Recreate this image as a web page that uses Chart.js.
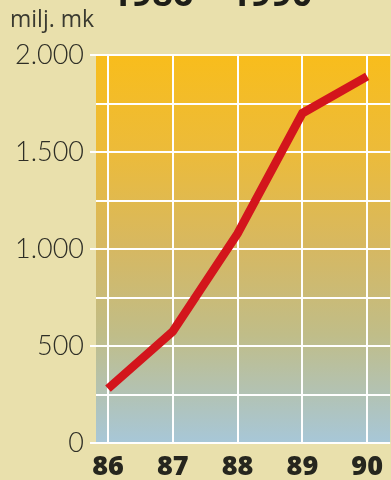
<!DOCTYPE html>
<html>
<head>
<meta charset="utf-8">
<script src="https://cdn.jsdelivr.net/npm/chart.js@4"></script>
<style>
    html, body { margin: 0; padding: 0; background: #e9e0ac; }
    #wrap { position: relative; width: 391px; height: 480px; overflow: hidden; }
    canvas { display: block; }
</style>
</head>
<body>
<div id="wrap"><canvas id="chart" width="391" height="480"></canvas></div>
<script>
const years = [86, 87, 88, 89, 90];
const values = [280, 575, 1080, 1700, 1890];
const yLabels = ['0', '500', '1.000', '1.500', '2.000'];
const unitLabel = 'milj. mk';
const title = '1986 – 1990';

// gradient behind the plot + texts above it
const backdrop = {
    id: 'backdrop',
    beforeDatasetsDraw(chart) {
        const { ctx, chartArea: a } = chart;
        ctx.save();
        ctx.globalCompositeOperation = 'destination-over';
        const g = ctx.createLinearGradient(0, a.top, 0, a.bottom);
        g.addColorStop(0, '#f8bd1c');
        g.addColorStop(0.25, '#ecbb3a');
        g.addColorStop(0.5, '#d6b862');
        g.addColorStop(0.72, '#c0bd88');
        g.addColorStop(1, '#a7c7d8');
        ctx.fillStyle = g;
        ctx.fillRect(a.left, a.top, a.right - a.left, a.bottom - a.top);
        ctx.restore();
    },
    afterDraw(chart) {
        const { ctx } = chart;
        ctx.save();
        ctx.fillStyle = '#1e1e18';
        ctx.font = 'bold 36px "Open Sans"';
        ctx.textBaseline = 'alphabetic';
        ctx.fillText(title, 111, 6);
        ctx.fillStyle = '#3a3a30';
        ctx.font = '23px "Open Sans"';
        ctx.fillText(unitLabel, 10, 27);
        ctx.restore();
    }
};

const chart = new Chart(document.getElementById('chart'), {
    type: 'line',
    data: {
        datasets: [{
            data: years.map((y, i) => ({ x: y, y: values[i] })),
            borderColor: '#d3151c',
            borderWidth: 8.5,
            borderCapStyle: 'butt',
            borderJoinStyle: 'miter',
            pointRadius: 0,
            tension: 0,
        }]
    },
    options: {
        responsive: false,
        animation: false,
        layout: { padding: { top: 55, right: 0, left: 0, bottom: 0 } },
        plugins: { legend: { display: false }, tooltip: { enabled: false } },
        scales: {
            x: {
                type: 'linear',
                min: 85.815,
                max: 90.354,
                afterBuildTicks: (s) => { s.ticks = years.map(v => ({ value: v })); },
                afterFit: (s) => { s.height = 37; },
                grid: { color: '#ffffff', lineWidth: 2, drawTicks: false },
                border: { display: false },
                ticks: {
                    color: '#26261e',
                    font: { family: 'Open Sans', weight: '800', size: 27 },
                    padding: 8,
                    maxRotation: 0,
                    callback: (v) => String(v),
                }
            },
            y: {
                min: 0,
                max: 2000,
                afterBuildTicks: (s) => {
                    const t = [];
                    for (let v = 0; v <= 2000; v += 250) t.push({ value: v });
                    s.ticks = t;
                },
                afterFit: (s) => { s.width = 96; },
                grid: {
                    color: '#ffffff',
                    lineWidth: 2,
                    tickLength: 6,
                    tickColor: (c) => c.tick && c.tick.value % 500 === 0 ? '#ffffff' : 'rgba(0,0,0,0)',
                },
                border: { display: false },
                ticks: {
                    color: '#2e2e26',
                    font: { family: 'Lato', weight: '300', size: 27 },
                    padding: 6,
                    callback: (v) => v % 500 === 0 ? yLabels[v / 500] : '',
                }
            }
        }
    },
    plugins: [backdrop]
});
</script>
</body>
</html>
